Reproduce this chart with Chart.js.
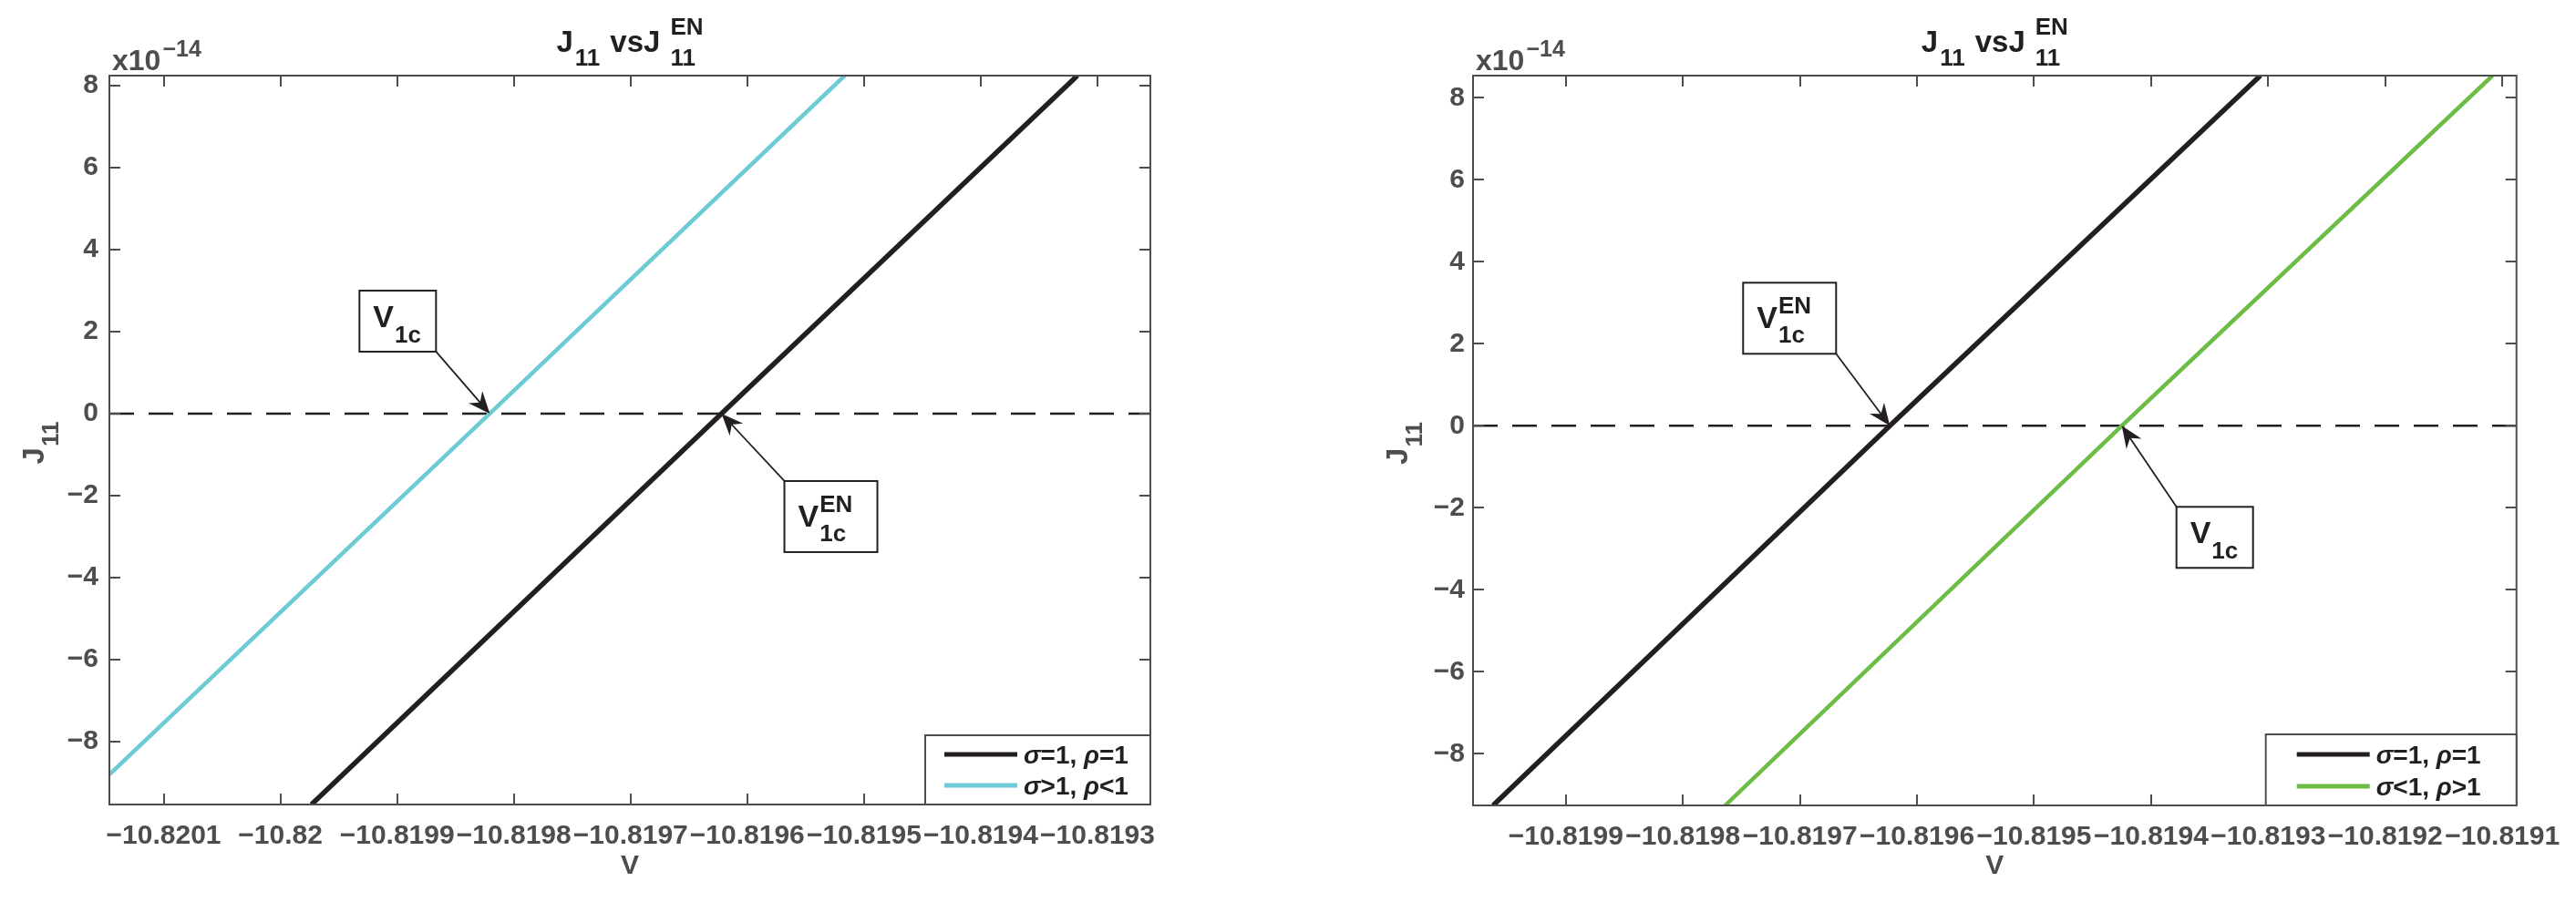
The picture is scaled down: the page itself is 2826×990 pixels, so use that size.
<!DOCTYPE html>
<html>
<head>
<meta charset="utf-8">
<script src="https://cdn.jsdelivr.net/npm/chart.js@4.4.0/dist/chart.umd.min.js"></script>
<style>
    html, body { margin: 0; padding: 0; background: #fff; }
    body { width: 2826px; height: 990px; position: relative; overflow: hidden; }
    .panel { position: absolute; top: 0; width: 1413px; height: 990px; }
</style>
</head>
<body>
<div class="panel" style="left:0"><canvas id="leftChart" width="1413" height="990"></canvas></div>
<div class="panel" style="left:1413px"><canvas id="rightChart" width="1413" height="990"></canvas></div>
<script>
// --- DATA; J11 in units of 1e-14 ---
const yTickValues = [-8, -6, -4, -2, 0, 2, 4, 6, 8];
const yTickLabels = ['−8', '−6', '−4', '−2', '0', '2', '4', '6', '8'];

// left panel
const leftXTicks = [-10.8201, -10.8200, -10.8199, -10.8198, -10.8197, -10.8196, -10.8195, -10.8194, -10.8193];
const leftXLabels = ['−10.8201', '−10.82', '−10.8199', '−10.8198', '−10.8197', '−10.8196', '−10.8195', '−10.8194', '−10.8193'];
const leftXRange = [-10.8201465, -10.8192547];
const leftYRange = [-9.53, 8.24];
const leftLabels = ['σ=1, ρ=1', 'σ>1, ρ<1'];
const leftBlackV = [-10.8199734, -10.8196221, -10.8193172];
const leftBlackJ = [-9.53, 0, 8.24];
const leftCyanV = [-10.8201465, -10.8198206, -10.8195166];
const leftCyanJ = [-8.8, 0, 8.24];

// right panel
const rightXTicks = [-10.8199, -10.8198, -10.8197, -10.8196, -10.8195, -10.8194, -10.8193, -10.8192, -10.8191];
const rightXLabels = ['−10.8199', '−10.8198', '−10.8197', '−10.8196', '−10.8195', '−10.8194', '−10.8193', '−10.8192', '−10.8191'];
const rightXRange = [-10.8199793, -10.8190879];
const rightYRange = [-9.26, 8.54];
const rightLabels = ['σ=1, ρ=1', 'σ<1, ρ>1'];
const rightBlackV = [-10.8199622, -10.8196232, -10.8193067];
const rightBlackJ = [-9.26, 0, 8.54];
const rightGreenV = [-10.8197639, -10.8194251, -10.8191084];
const rightGreenJ = [-9.26, 0, 8.54];

// --- STYLE ---
const FONT_FAMILY = '"Liberation Sans", Arial, Helvetica, sans-serif';
const GRAY = '#4d4d4d';
const INK = '#231f20';
const CYAN = '#6ccbd5';
const GREEN = '#6cbd45';

const BOX_PLAIN = { w: 84, h: 67, base: 40 };
const BOX_EN = { w: 102, h: 78, base: 50 };

function font(size, italic) {
    return `${italic ? 'italic ' : ''}bold ${size}px ${FONT_FAMILY}`;
}

// --- rich text with sub/superscripts ---
function pieceWidth(ctx, p) {
    if (p.stack) return Math.max(...p.stack.map(q => pieceWidth(ctx, q)));
    ctx.font = font(p.size, p.italic);
    return ctx.measureText(p.text).width;
}

function richWidth(ctx, pieces) {
    return pieces.reduce((w, p) => w + (p.gap || 0) + pieceWidth(ctx, p), 0);
}

function drawRich(ctx, pieces, x, y) {
    ctx.textBaseline = 'alphabetic';
    ctx.textAlign = 'left';
    pieces.forEach(p => {
        x += p.gap || 0;
        (p.stack || [p]).forEach(q => {
            ctx.font = font(q.size, q.italic);
            ctx.fillText(q.text, x, y + (q.shift || 0));
        });
        x += pieceWidth(ctx, p);
    });
}

function greekPieces(label, size) {
    return [...label].map(ch => ({ text: ch, size, italic: /[α-ω]/.test(ch) }));
}

function drawArrow(ctx, x0, y0, x1, y1) {
    const ang = Math.atan2(y1 - y0, x1 - x0);
    const cos = Math.cos(ang), sin = Math.sin(ang);
    const L = 24, W = 10;
    ctx.beginPath();
    ctx.moveTo(x0, y0);
    ctx.lineTo(x1 - cos * L * 0.6, y1 - sin * L * 0.6);
    ctx.stroke();
    const bx = x1 - cos * L, by = y1 - sin * L;
    ctx.beginPath();
    ctx.moveTo(x1, y1);
    ctx.lineTo(bx - sin * W, by + cos * W);
    ctx.lineTo(x1 - cos * L * 0.68, y1 - sin * L * 0.68);
    ctx.lineTo(bx + sin * W, by - cos * W);
    ctx.closePath();
    ctx.fill();
}

// --- MATLAB-like decorations: box, inner ticks, title, exponent, legend, text arrows ---
function makeDecor(cfg) {
    return {
        id: 'matlabDecor',
        afterDraw(chart) {
            const { ctx, chartArea: a, scales: { x, y } } = chart;
            ctx.save();

            // axes box + ticks pointing inwards
            ctx.strokeStyle = GRAY;
            ctx.lineWidth = 2;
            ctx.strokeRect(a.left, a.top, a.width, a.height);
            const tl = 12;
            ctx.beginPath();
            x.ticks.forEach(t => {
                const px = Math.round(x.getPixelForValue(t.value));
                ctx.moveTo(px, a.bottom); ctx.lineTo(px, a.bottom - tl);
                ctx.moveTo(px, a.top); ctx.lineTo(px, a.top + tl);
            });
            y.ticks.forEach(t => {
                const py = Math.round(y.getPixelForValue(t.value));
                ctx.moveTo(a.left, py); ctx.lineTo(a.left + tl, py);
                ctx.moveTo(a.right, py); ctx.lineTo(a.right - tl, py);
            });
            ctx.stroke();

            // exponent label
            ctx.fillStyle = GRAY;
            drawRich(ctx, [{ text: 'x10', size: 32 }, { text: '−14', size: 25, shift: -15, gap: 2 }], a.left + 3, 77);

            // title
            ctx.fillStyle = INK;
            const title = [
                { text: 'J', size: 33 },
                { text: '11', size: 26, shift: 15, gap: 2 },
                { text: 'vsJ', size: 33, gap: 11 },
                { stack: [{ text: 'EN', size: 26, shift: -19 }, { text: '11', size: 26, shift: 15 }], gap: 11 }
            ];
            drawRich(ctx, title, (a.left + a.right) / 2 - richWidth(ctx, title) / 2, 57);

            // y axis label
            ctx.fillStyle = GRAY;
            const ylab = [{ text: 'J', size: 33 }, { text: '11', size: 26, shift: 16, gap: 1 }];
            ctx.save();
            ctx.translate(a.left - 72, (a.top + a.bottom) / 2 + 3);
            ctx.rotate(-Math.PI / 2);
            drawRich(ctx, ylab, -richWidth(ctx, ylab) / 2, 0);
            ctx.restore();

            // legend (lower right, inside the axes)
            const lg = cfg.legend;
            const lx = a.right - lg.w, ly = a.bottom - lg.h;
            ctx.fillStyle = '#fff';
            ctx.fillRect(lx, ly, lg.w, lg.h);
            ctx.strokeStyle = GRAY;
            ctx.lineWidth = 2;
            ctx.strokeRect(lx, ly, lg.w, lg.h);
            chart.data.datasets.filter(d => !d.isRef).forEach((d, i) => {
                const ry = ly + lg.rows[i];
                ctx.strokeStyle = d.borderColor;
                ctx.lineWidth = 5;
                ctx.beginPath();
                ctx.moveTo(lx + lg.padL, ry);
                ctx.lineTo(lx + lg.padL + 80, ry);
                ctx.stroke();
                ctx.fillStyle = INK;
                drawRich(ctx, greekPieces(d.label, 28), lx + lg.padL + 87, ry + 10);
            });

            // text boxes with arrows at the zero crossings
            cfg.notes.forEach(n => {
                const tx = x.getPixelForValue(n.target), ty = y.getPixelForValue(0);
                const st = n.sup ? BOX_EN : BOX_PLAIN;
                const cx = tx + n.corner[0], cy = ty + n.corner[1];
                const bl = n.corner[0] < 0 ? cx - st.w : cx;
                const bt = n.corner[1] < 0 ? cy - st.h : cy;
                ctx.fillStyle = '#fff';
                ctx.fillRect(bl, bt, st.w, st.h);
                ctx.strokeStyle = INK;
                ctx.lineWidth = 2;
                ctx.strokeRect(bl, bt, st.w, st.h);
                ctx.fillStyle = INK;
                ctx.lineWidth = 1.8;
                drawArrow(ctx, cx, cy, tx, ty);
                const txt = [{ text: n.text, size: 34 }];
                if (n.sup) {
                    txt.push({ stack: [{ text: n.sup, size: 26, shift: -16 }, { text: n.sub, size: 26, shift: 16 }], gap: 1 });
                } else {
                    txt.push({ text: n.sub, size: 26, shift: 17, gap: 1 });
                }
                drawRich(ctx, txt, bl + 15, bt + st.base);
            });

            ctx.restore();
        }
    };
}

function toPoints(xs, ys) {
    return xs.map((v, i) => ({ x: v, y: ys[i] }));
}

function makeChart(id, cfg) {
    const tickFont = { family: FONT_FAMILY, size: 30, weight: 'bold' };
    const datasets = cfg.series.map(s => ({
        label: s.label,
        data: toPoints(s.x, s.y),
        borderColor: s.color,
        borderWidth: s.width,
        showLine: true,
        pointRadius: 0,
        clip: 0
    }));
    datasets.push({
        label: 'zero',
        isRef: true,
        data: toPoints(cfg.xRange, [0, 0]),
        borderColor: INK,
        borderWidth: 2.5,
        borderDash: [27, 16],
        showLine: true,
        pointRadius: 0,
        clip: 0
    });

    return new Chart(document.getElementById(id), {
        type: 'scatter',
        data: { datasets },
        options: {
            responsive: false,
            animation: false,
            devicePixelRatio: 1,
            layout: { padding: { left: 0, top: 83, right: cfg.padRight, bottom: 0 } },
            plugins: { legend: { display: false }, tooltip: { enabled: false }, title: { display: false } },
            scales: {
                x: {
                    type: 'linear',
                    min: cfg.xRange[0],
                    max: cfg.xRange[1],
                    afterBuildTicks: s => { s.ticks = cfg.xTicks.map(v => ({ value: v })); },
                    afterFit: s => { s.height = cfg.xAxisHeight; },
                    grid: { display: false, drawTicks: false },
                    border: { display: false },
                    ticks: {
                        autoSkip: false, maxRotation: 0, minRotation: 0, padding: 17,
                        color: GRAY, font: tickFont,
                        callback: (v, i) => cfg.xLabels[i]
                    },
                    title: {
                        display: true, text: 'V', color: GRAY, font: tickFont,
                        padding: { top: 0, bottom: 21 }
                    }
                },
                y: {
                    type: 'linear',
                    min: cfg.yRange[0],
                    max: cfg.yRange[1],
                    afterBuildTicks: s => { s.ticks = yTickValues.map(v => ({ value: v })); },
                    afterFit: s => { s.width = cfg.yAxisWidth; },
                    grid: { display: false, drawTicks: false },
                    border: { display: false },
                    ticks: {
                        autoSkip: false, padding: cfg.yPad,
                        color: GRAY, font: tickFont,
                        callback: (v, i) => yTickLabels[i]
                    }
                }
            }
        },
        plugins: [makeDecor(cfg)]
    });
}

makeChart('leftChart', {
    xTicks: leftXTicks, xLabels: leftXLabels, xRange: leftXRange, yRange: leftYRange,
    series: [
        { label: leftLabels[0], x: leftBlackV, y: leftBlackJ, color: INK, width: 5.5 },
        { label: leftLabels[1], x: leftCyanV, y: leftCyanJ, color: CYAN, width: 4.5 }
    ],
    padRight: 151, yAxisWidth: 120, xAxisHeight: 107, yPad: 12,
    legend: { w: 247, h: 76, padL: 21, rows: [21, 55] },
    notes: [
        { text: 'V', sub: '1c', target: leftCyanV[1], corner: [-59, -68] },
        { text: 'V', sub: '1c', sup: 'EN', target: leftBlackV[1], corner: [69, 74] }
    ]
});

makeChart('rightChart', {
    xTicks: rightXTicks, xLabels: rightXLabels, xRange: rightXRange, yRange: rightYRange,
    series: [
        { label: rightLabels[0], x: rightBlackV, y: rightBlackJ, color: INK, width: 5.5 },
        { label: rightLabels[1], x: rightGreenV, y: rightGreenJ, color: GREEN, width: 4.5 }
    ],
    padRight: 63, yAxisWidth: 203, xAxisHeight: 106, yPad: 9,
    legend: { w: 275, h: 78, padL: 34, rows: [22, 57] },
    notes: [
        { text: 'V', sub: '1c', sup: 'EN', target: rightBlackV[1], corner: [-59, -79] },
        { text: 'V', sub: '1c', target: rightGreenV[1], corner: [60, 89] }
    ]
});
</script>
</body>
</html>
